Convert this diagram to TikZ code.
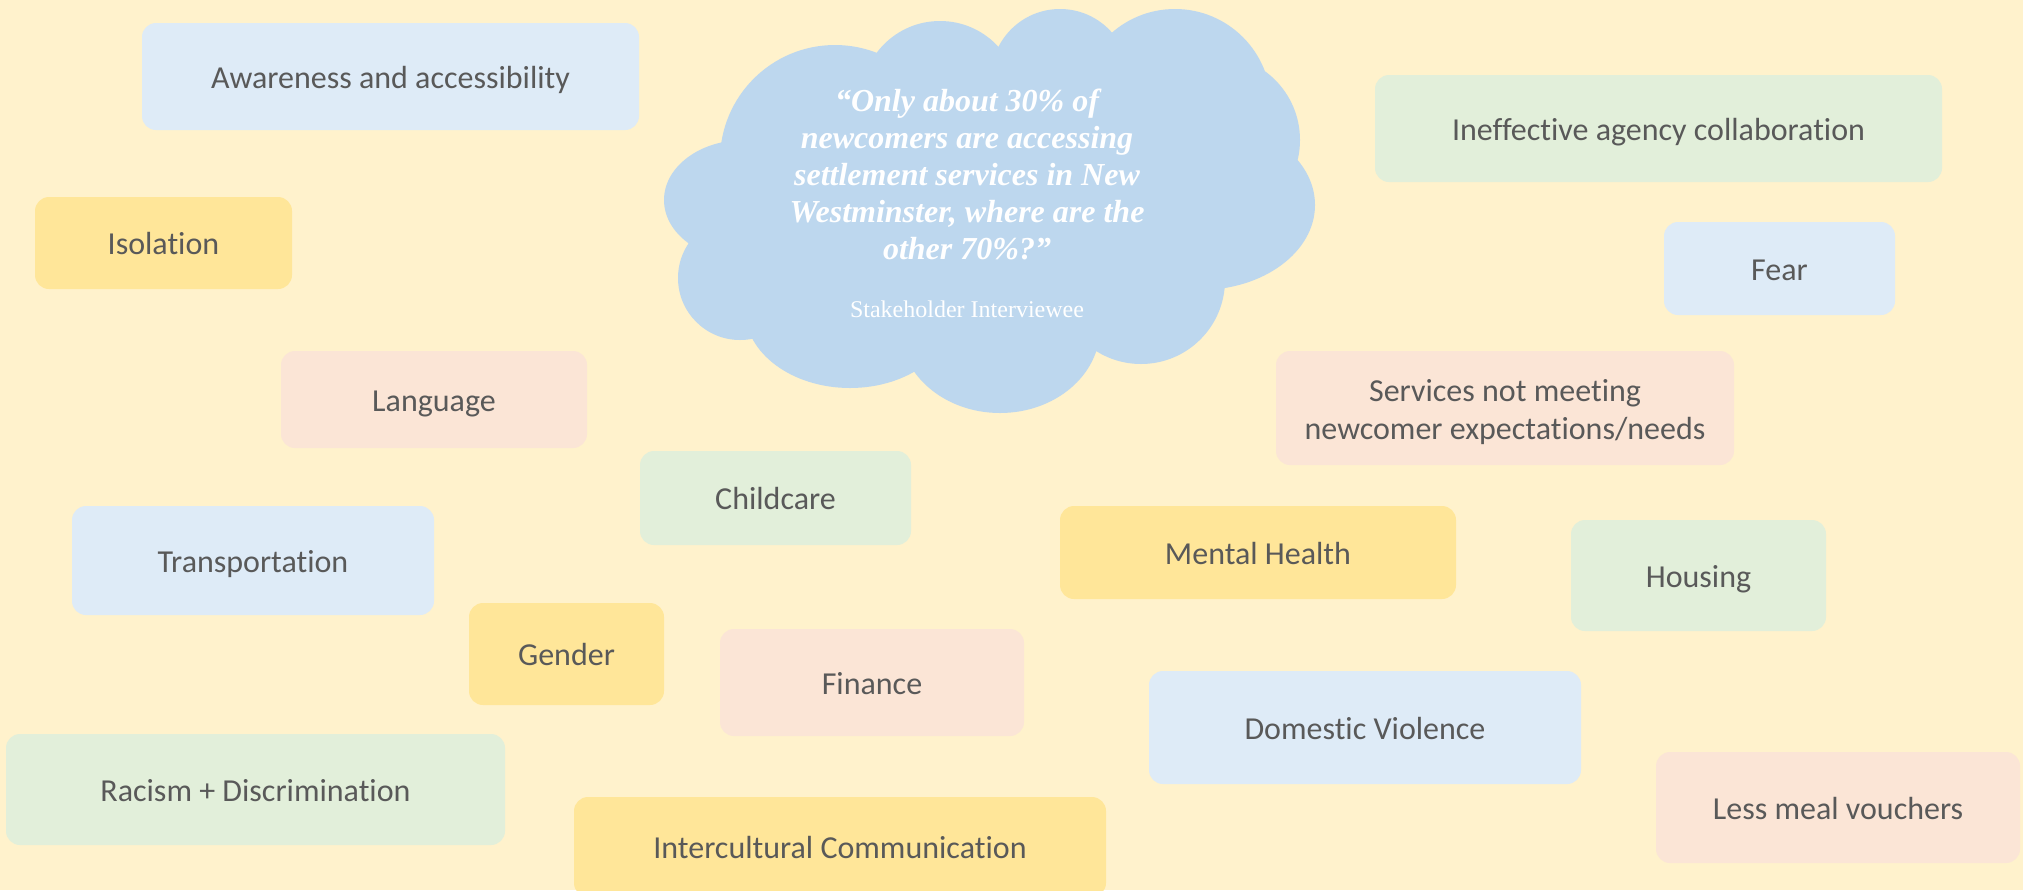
\documentclass[tikz,border=0pt]{standalone}
\usepackage{fontspec}
\setmainfont{Carlito}[Ligatures={NoCommon}]
\newfontfamily\quotefont{Liberation Serif}
\definecolor{bgyellow}{HTML}{FFF2CC}
\definecolor{cloudblue}{HTML}{BDD7EE}
\definecolor{tagblue}{HTML}{DEEBF7}
\definecolor{tagyellow}{HTML}{FFE699}
\definecolor{tagpeach}{HTML}{FBE5D6}
\definecolor{taggreen}{HTML}{E2EFDA}
\definecolor{tagtext}{HTML}{595959}
\tikzset{
  tag/.style={rounded corners=7pt, inner sep=0pt, align=center,
    text height=13pt, text depth=1.5pt,
    text=tagtext, font=\fontsize{16}{19}\selectfont},
  twolines/.style={text height=33pt, text depth=2pt},
  tagsize/.style 2 args={minimum width=#1*0.5pt, minimum height=#2*0.5pt},
  blue/.style={tag, fill=tagblue},
  yellow/.style={tag, fill=tagyellow},
  peach/.style={tag, fill=tagpeach},
  green/.style={tag, fill=taggreen},
}
\begin{document}
\begin{tikzpicture}[x=0.5pt,y=-0.5pt]
  % page
  \fill[bgyellow] (0,0) rectangle (2023,890);
  \useasboundingbox (0,0) rectangle (2023,890);
  \clip (0,0) rectangle (2023,890);

  % thought cloud built from overlapping lobes
  \fill[cloudblue]
    (990,215) ellipse[x radius=230, y radius=125]
    (835,160) circle[radius=115]
    (940,100) circle[radius=79]
    (1060,78) circle[radius=69]
    (1175,105) circle[radius=96]
    (1215,140) circle[radius=85]
    (1200,205) ellipse[x radius=115, y radius=85]
    (1141,280) circle[radius=84]
    (1000,328) ellipse[x radius=100, y radius=85]
    (850,310) ellipse[x radius=105, y radius=78]
    (740,278) circle[radius=62]
    (744,200) ellipse[x radius=80, y radius=60];

  \node[text=white, align=center, font=\quotefont\bfseries\itshape\fontsize{16}{18.5}\selectfont]
    (quote) at (967,174)
    {“Only about 30\% of\\newcomers are accessing\\settlement services in New\\Westminster, where are the\\other 70\%?”};
  \node[text=white, font=\quotefont\fontsize{12}{14}\selectfont]
    (source) at (967,309) {Stakeholder Interviewee};

  % left-hand tags
  \node[blue, tagsize={497}{107}]   (aware)   at (390.5,76.5) {Awareness and accessibility};
  \node[yellow, tagsize={257}{92}]  (isol)    at (163.5,243)  {Isolation};
  \node[peach, tagsize={306}{97}]   (lang)    at (434,399.5)  {Language};
  \node[green, tagsize={271}{94}]   (child)   at (775.5,498)  {Childcare};
  \node[blue, tagsize={362}{109}]   (trans)   at (253,560.5)  {Transportation};
  \node[yellow, tagsize={195}{102}] (gender)  at (566.5,654)  {Gender};
  \node[peach, tagsize={304}{107}]  (finance) at (872,682.5)  {Finance};
  \node[green, tagsize={499}{111}]  (racism)  at (255.5,789.5) {Racism + Discrimination};
  \node[yellow, tagsize={532}{100}] (intercult) at (840,847)  {Intercultural Communication};

  % right-hand tags
  \node[green, tagsize={567}{107}]  (agency)  at (1658.5,128.5) {Ineffective agency collaboration};
  \node[blue, tagsize={231}{93}]    (fear)    at (1779.5,268.5) {Fear};
  \node[peach, twolines, tagsize={458}{114}] (services) at (1505,408) {Services not meeting\\newcomer expectations/needs};
  \node[yellow, tagsize={396}{93}]  (mental)  at (1258,552.5)   {Mental Health};
  \node[green, tagsize={255}{111}]  (housing) at (1698.5,575.5) {Housing};
  \node[blue, tagsize={432}{113}]   (domestic) at (1365,727.5)  {Domestic Violence};
  \node[peach, tagsize={364}{111}]  (meal)    at (1838,807.5)   {Less meal vouchers};
\end{tikzpicture}
\end{document}
